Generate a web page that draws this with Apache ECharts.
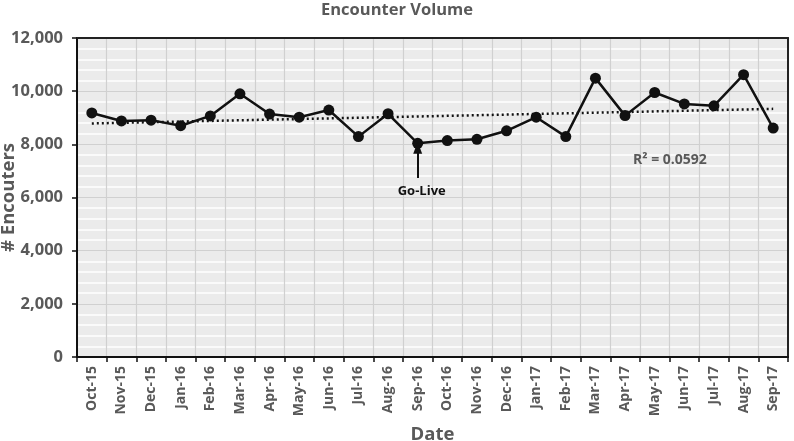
<!DOCTYPE html>
<html>
<head>
<meta charset="utf-8">
<script src="https://cdn.jsdelivr.net/npm/echarts@6/dist/echarts.min.js"></script>
<style>html,body{margin:0;padding:0;background:#fff}#c{width:794px;height:441px}</style>
</head>
<body>
<div id="c"></div>
<script>
const categories = ['Oct-15','Nov-15','Dec-15','Jan-16','Feb-16','Mar-16','Apr-16','May-16','Jun-16','Jul-16','Aug-16','Sep-16',
  'Oct-16','Nov-16','Dec-16','Jan-17','Feb-17','Mar-17','Apr-17','May-17','Jun-17','Jul-17','Aug-17','Sep-17'];
const encounters = [9180,8880,8910,8700,9070,9900,9140,9020,9290,8290,9150,8040,
  8140,8190,8510,9020,8290,10490,9080,9950,9520,9450,10620,8610];
const yTicks = [0,2000,4000,6000,8000,10000,12000];
const goLive = {category:'Sep-16', arrowFrom:6730, arrowTo:7870, labelAt:6220, text:'Go-Live'};
const r2Text = 'R\u00b2 = 0.0592';

// linear trend (least squares) from the data
const n = encounters.length;
let sx=0, sy=0, sxy=0, sxx=0;
encounters.forEach((v,i)=>{sx+=i; sy+=v; sxy+=i*v; sxx+=i*i;});
const slope = (n*sxy - sx*sy)/(n*sxx - sx*sx);
const icpt = (sy - slope*sx)/n;
const trend = encounters.map((v,i)=>icpt + slope*i);

const FONT = 'Open Sans';
const GRAY = '#595959';
const chart = echarts.init(document.getElementById('c'));
chart.setOption({
  animation:false,
  backgroundColor:'#fff',
  title:{text:'Encounter Volume', left:'center', top:-3,
    textStyle:{fontFamily:FONT, fontWeight:'bold', fontSize:16.5, color:GRAY}},
  grid:{left:77, right:6, top:38, bottom:84, show:true, backgroundColor:'#ebebeb',
    borderColor:'#222', borderWidth:0, containLabel:false, outerBoundsMode:'none'},
  xAxis:[{type:'category', data:categories, boundaryGap:true,
    name:'Date', nameLocation:'middle', nameGap:68, nameMoveOverlap:false,
    nameTextStyle:{fontFamily:FONT, fontWeight:'bold', fontSize:18.5, color:GRAY},
    axisLine:{onZero:false, lineStyle:{color:'#111', width:2}},
    axisTick:{show:true, length:5, lineStyle:{color:'#111', width:1.5}},
    axisLabel:{rotate:90, interval:0, fontFamily:FONT, fontWeight:'bold', fontSize:14, color:GRAY, margin:9},
    splitLine:{show:true, interval:0, lineStyle:{color:'#d0d0d0', width:1.2}}},
    {type:'category', data:categories, position:'top', axisLine:{show:true, onZero:false, lineStyle:{color:'#222', width:2}},
     axisTick:{show:false}, axisLabel:{show:false}, splitLine:{show:false}}],
  yAxis:[{type:'value', min:0, max:12000, interval:2000,
    name:'# Encouters', nameLocation:'middle', nameGap:59, nameMoveOverlap:false,
    nameTextStyle:{fontFamily:FONT, fontWeight:'bold', fontSize:18.5, color:GRAY},
    axisLine:{show:true, onZero:false, lineStyle:{color:'#111', width:2}},
    axisTick:{show:true, length:5, lineStyle:{color:'#111', width:1.5}},
    axisLabel:{fontFamily:FONT, fontWeight:'bold', fontSize:16.5, color:GRAY, margin:14,
      formatter:v=>v.toLocaleString('en-US')},
    splitLine:{show:true, lineStyle:{color:'#d0d0d0', width:1.2}},
    minorTick:{show:false, splitNumber:5},
    minorSplitLine:{show:true, lineStyle:{color:'#ffffff', width:1.5}}},
    {type:'value', min:0, max:12000, interval:2000, position:'right',
     axisLine:{show:true, onZero:false, lineStyle:{color:'#222', width:2}},
     axisTick:{show:false}, axisLabel:{show:false}, splitLine:{show:false}}],
  series:[
    {type:'line', data:trend, symbol:'none', z:2,
      lineStyle:{color:'#111', width:2.5, type:[2,3]}, silent:true},
    {type:'line', data:encounters, symbol:'circle', symbolSize:11, z:3,
      lineStyle:{color:'#111', width:2.5}, itemStyle:{color:'#111'},
      markLine:{silent:true, symbol:['none','triangle'], symbolSize:[9,12],
        lineStyle:{color:'#111', width:2, type:'solid'}, label:{show:false},
        data:[[{coord:[goLive.category, goLive.arrowFrom]},{coord:[goLive.category, goLive.arrowTo]}]]},
      markPoint:{silent:true, symbol:'circle', symbolSize:0,
        label:{show:true, formatter:goLive.text, color:'#111', fontFamily:FONT, fontWeight:'bold', fontSize:13, offset:[4,0]},
        data:[{coord:[goLive.category, goLive.labelAt]}]}}
  ],
  graphic:[{type:'text', left:633, top:153, z:100,
    style:{text:r2Text, fill:GRAY, font:'bold 14px "Open Sans"'}}]
});
</script>
</body>
</html>
